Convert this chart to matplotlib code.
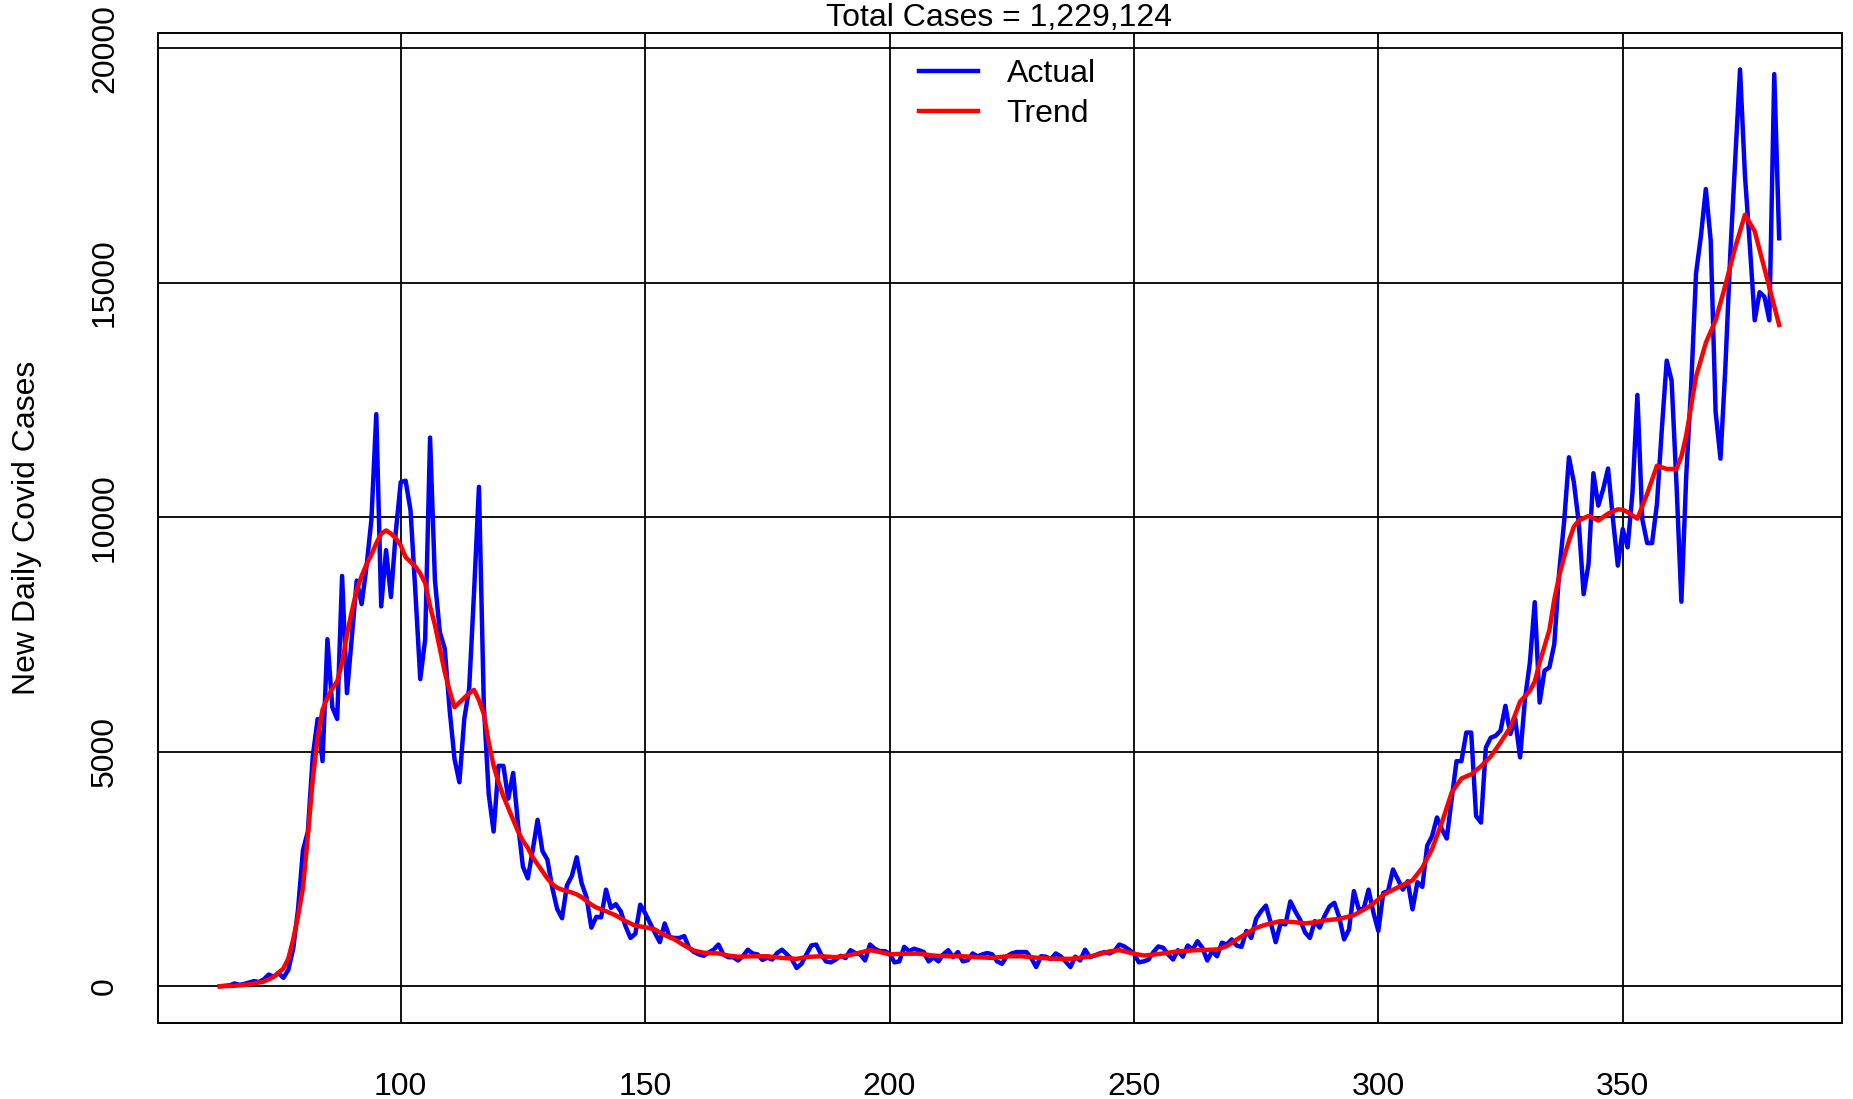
import numpy as np
import matplotlib
matplotlib.use("Agg")
import matplotlib.pyplot as plt
from matplotlib.lines import Line2D

plt.rcParams['font.family'] = ['Liberation Sans', 'DejaVu Sans']

# daily new cases, one value per day starting at day 63
first_day = 63
actual_cases = [
    0, 10, 20, 60, 30, 50, 80, 110, 90, 150, 250, 200, 280, 180, 350, 800, 1650,   # 63-79
    2900, 3300, 4900, 5700, 4800, 7400, 5950, 5700, 8750, 6250,                    # 80-89
    7450, 8650, 8150, 8950, 9950, 12200, 8100, 9300, 8300, 9700,                   # 90-99
    10750, 10780, 10150, 8400, 6550, 7400, 11700, 8650, 7550, 7200,                # 100-109
    5900, 4850, 4350, 5700, 6350, 8400, 10650, 6000, 4100, 3300,                   # 110-119
    4700, 4700, 4000, 4550, 3450, 2550, 2300, 2900, 3550, 2880,                    # 120-129
    2700, 2100, 1650, 1450, 2150, 2350, 2750, 2200, 1900, 1250,                    # 130-139
    1480, 1470, 2060, 1670, 1750, 1600, 1280, 1030, 1120, 1740,                    # 140-149
    1560, 1350, 1140, 940, 1340, 1050, 1030, 1030, 1070, 820,                      # 150-159
    730, 680, 650, 720, 780, 890, 680, 620, 620, 550,                              # 160-169
    640, 780, 700, 680, 560, 610, 570, 710, 780, 680,                              # 170-179
    580, 390, 480, 680, 870, 890, 680, 530, 510, 570,                              # 180-189
    650, 600, 770, 710, 680, 550, 890, 800, 750, 750,                              # 190-199
    700, 510, 530, 840, 750, 800, 770, 730, 530, 620,                              # 200-209
    530, 680, 770, 620, 730, 530, 555, 700, 640, 680,                              # 210-219
    710, 680, 530, 480, 640, 700, 730, 730, 730, 600,                              # 220-229
    410, 640, 630, 580, 700, 640, 530, 410, 630, 550,                              # 230-239
    780, 620, 660, 700, 730, 700, 750, 890, 850, 780,                              # 240-249
    700, 510, 530, 570, 730, 850, 820, 680, 570, 770,                              # 250-259
    630, 870, 780, 960, 820, 550, 750, 640, 930, 890,                              # 260-269
    1000, 870, 840, 1180, 1030, 1440, 1600, 1720, 1350, 940,                       # 270-279
    1340, 1320, 1810, 1600, 1420, 1150, 1030, 1390, 1250, 1500,                    # 280-289
    1700, 1780, 1470, 1000, 1210, 2030, 1640, 1650, 2060, 1570,                    # 290-299
    1180, 1990, 2030, 2490, 2280, 2060, 2240, 1640, 2220, 2120,                    # 300-309
    3000, 3200, 3600, 3350, 3150, 3990, 4800, 4800, 5410, 5410,                    # 310-319
    3630, 3490, 5090, 5300, 5340, 5450, 5980, 5380, 5700, 4880,                    # 320-329
    6120, 6900, 8190, 6050, 6730, 6800, 7300, 8830, 9890, 11280,                   # 330-339
    10750, 9890, 8360, 9000, 10940, 10250, 10600, 11040, 9960, 8970,               # 340-349
    9750, 9360, 10530, 12610, 9960, 9450, 9450, 10280, 11880, 13340,               # 350-359
    12910, 10700, 8200, 10900, 12800, 15200, 16000, 17000, 15900, 12250,           # 360-369
    11250, 13200, 15600, 17600, 19550, 17300, 15800, 14200, 14800, 14700,          # 370-379
    14200, 19450, 15950,                                                           # 380-382
]
days = np.arange(first_day, first_day + len(actual_cases))

trend_days = [
    63, 66, 69, 72, 74, 76, 77, 78, 79, 80, 81, 82, 83, 84, 85, 86, 87, 88, 89,
    90, 91, 92, 93, 94, 95, 96, 97, 98, 99, 100, 101, 102, 103, 104, 105, 106,
    107, 108, 109, 110, 111, 112, 113, 114, 115, 116, 117, 118, 119, 120, 121,
    122, 123, 124, 125, 126, 127, 128, 129, 130, 131, 132, 133, 134, 135, 136,
    137, 138, 139, 140, 142, 144, 146, 148, 150, 152, 154, 156, 158, 160, 162,
    165, 167, 169, 172, 175, 178, 181, 183, 186, 189, 192, 194, 196, 198, 200,
    203, 206, 209, 212, 215, 218, 221, 224, 227, 230, 234, 237, 240, 242, 245,
    247, 250, 252, 254, 257, 259, 263, 267, 269, 271, 273, 275, 277, 280, 283,
    285, 287, 289, 292, 295, 298, 300, 301, 304, 307, 309, 311, 313, 315, 317,
    319, 321, 323, 325, 327, 329, 331, 332, 333, 335, 336, 337, 338, 339, 340,
    341, 343, 345, 347, 349, 350, 351, 353, 355, 357, 359, 361, 362, 363, 365,
    367, 369, 371, 373, 375, 377, 379, 382,
]
trend_cases = [
    0, 10, 40, 100, 200, 380, 590, 1000, 1500, 2100, 3200, 4400, 5300, 5900,
    6150, 6350, 6500, 6900, 7500, 8000, 8450, 8750, 9000, 9200, 9450, 9650,
    9720, 9650, 9550, 9400, 9150, 9050, 8950, 8800, 8600, 8100, 7700, 7200,
    6700, 6300, 5950, 6050, 6150, 6250, 6320, 6100, 5800, 5200, 4700, 4350,
    4050, 3800, 3550, 3300, 3100, 2950, 2750, 2600, 2450, 2300, 2180, 2100,
    2060, 2030, 2000, 1960, 1900, 1820, 1740, 1680, 1600, 1510, 1390, 1290,
    1260, 1210, 1090, 1000, 870, 760, 715, 700, 655, 630, 640, 640, 605, 585,
    625, 640, 620, 665, 720, 770, 730, 680, 695, 695, 655, 640, 640, 620, 605,
    640, 640, 610, 585, 585, 620, 655, 745, 770, 695, 655, 675, 715, 745, 770,
    785, 855, 995, 1125, 1245, 1315, 1390, 1365, 1340, 1365, 1405, 1435, 1515,
    1690, 1850, 1950, 2110, 2260, 2530, 2930, 3490, 4130, 4430, 4520, 4690,
    4900, 5200, 5520, 6070, 6300, 6500, 6900, 7600, 8250, 8750, 9150, 9500,
    9800, 9930, 10030, 9930, 10080, 10170, 10160, 10110, 9970, 10500, 11100,
    11030, 11030, 11300, 11750, 13000, 13720, 14200, 14950, 15750, 16450,
    16100, 15300, 14100,
]

total_cases = 1229124

fig = plt.figure(figsize=(18.53, 10.99), dpi=100)
ax = fig.add_axes([0.085, 0.0692, 0.9088, 0.901])

ax.plot(days, actual_cases, color='#0000FF', lw=3.2, zorder=3)
ax.plot(trend_days, trend_cases, color='#FF0000', lw=3.2, zorder=4)

# R-style 4% padding around the data range
xpad = 0.04 * (days[-1] - days[0])
ymax = max(actual_cases)
ax.set_xlim(days[0] - xpad, days[-1] + xpad)
ax.set_ylim(-0.04 * ymax, 1.04 * ymax)

xticks = [100, 150, 200, 250, 300, 350]
yticks = [0, 5000, 10000, 15000, 20000]
ax.set_xticks(xticks)
ax.set_xticklabels([str(t) for t in xticks], fontsize=23)
ax.set_yticks(yticks)
ax.set_yticklabels([str(t) for t in yticks], fontsize=23, rotation=90, va='center')
ax.tick_params(axis='both', length=0)
ax.tick_params(axis='x', pad=35)
ax.tick_params(axis='y', pad=27)
ax.grid(True, color='black', lw=1.3, zorder=1)
for sp in ax.spines.values():
    sp.set_linewidth(1.4)
    sp.set_color('black')

ax.set_title(f"Total Cases = {total_cases:,}", fontsize=23, pad=4.5)
ax.set_ylabel("New Daily Covid Cases", fontsize=23)
ax.yaxis.set_label_coords(-0.0683, 0.5)

handles = [Line2D([], [], color='#0000FF', lw=3.2), Line2D([], [], color='#FF0000', lw=3.2)]
ax.legend(handles, ['Actual', 'Trend'], loc='upper left', bbox_to_anchor=(0.452, 0.973),
          frameon=False, fontsize=23, handlelength=1.85, handletextpad=0.9,
          borderpad=0, borderaxespad=0, labelspacing=0.3)

fig.savefig("out.png", dpi=100)
